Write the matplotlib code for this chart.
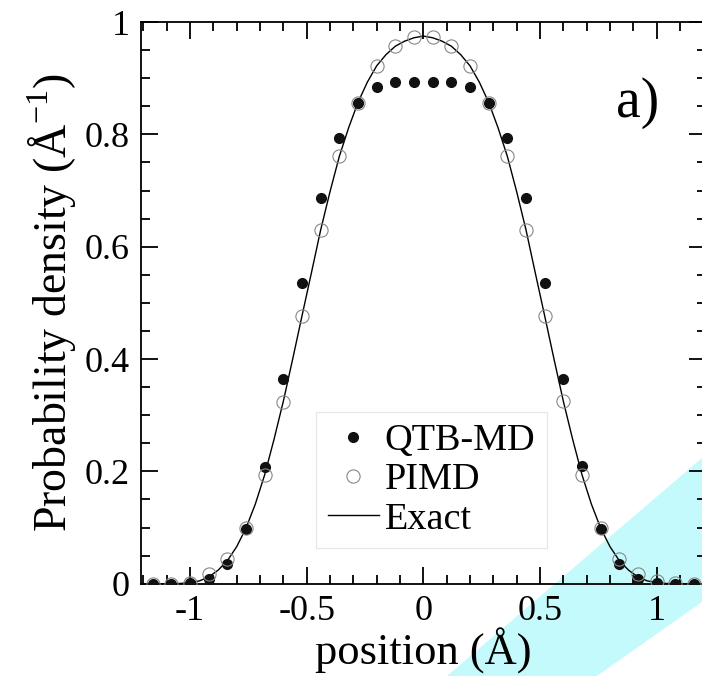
import matplotlib
matplotlib.use("Agg")
import matplotlib.pyplot as plt
from matplotlib.patches import Polygon
from matplotlib.ticker import MultipleLocator, FixedLocator

plt.rcParams["font.family"] = ["Liberation Serif", "DejaVu Serif"]
plt.rcParams["mathtext.fontset"] = "custom"
plt.rcParams["mathtext.rm"] = "Liberation Serif"

# sample positions (Angstrom)
pos = [-1.16, -1.08, -1.00, -0.92, -0.84, -0.76, -0.68, -0.60, -0.52, -0.44,
       -0.36, -0.28, -0.20, -0.12, -0.04, 0.04, 0.12, 0.20, 0.28, 0.36,
       0.44, 0.52, 0.60, 0.68, 0.76, 0.84, 0.92, 1.00, 1.08, 1.16]

qtb_md = [0.000, 0.000, 0.001, 0.009, 0.035, 0.097, 0.208, 0.365, 0.536, 0.686,
          0.794, 0.856, 0.884, 0.893, 0.893, 0.893, 0.893, 0.884, 0.856, 0.794,
          0.686, 0.536, 0.365, 0.209, 0.097, 0.035, 0.009, 0.001, 0.000, 0.000]

pimd = [0.000, 0.000, 0.002, 0.017, 0.044, 0.099, 0.194, 0.323, 0.477, 0.630,
        0.761, 0.856, 0.922, 0.958, 0.974, 0.974, 0.958, 0.922, 0.856, 0.761,
        0.630, 0.477, 0.325, 0.194, 0.100, 0.044, 0.017, 0.004, 0.001, 0.000]

# exact curve
exact_x = [-1.21, -1.16, -1.12, -1.08, -1.04, -1.00, -0.96, -0.92, -0.88, -0.84,
           -0.80, -0.76, -0.72, -0.68, -0.64, -0.60, -0.56, -0.52, -0.48, -0.44,
           -0.40, -0.36, -0.32, -0.28, -0.24, -0.20, -0.16, -0.12, -0.08, -0.04,
           0.00, 0.04, 0.08, 0.12, 0.16, 0.20, 0.24, 0.28, 0.32, 0.36,
           0.40, 0.44, 0.48, 0.52, 0.56, 0.60, 0.64, 0.68, 0.72, 0.76,
           0.80, 0.84, 0.88, 0.92, 0.96, 1.00, 1.04, 1.08, 1.12, 1.16, 1.21]
exact_y = [0.000, 0.000, 0.000, 0.000, 0.0005, 0.002, 0.005, 0.012, 0.024, 0.041,
           0.066, 0.099, 0.142, 0.194, 0.257, 0.325, 0.400, 0.477, 0.553, 0.630,
           0.698, 0.761, 0.812, 0.857, 0.893, 0.922, 0.942, 0.957, 0.966, 0.972,
           0.975, 0.972, 0.966, 0.957, 0.942, 0.922, 0.893, 0.857, 0.812, 0.761,
           0.698, 0.630, 0.553, 0.477, 0.400, 0.325, 0.257, 0.194, 0.142, 0.099,
           0.066, 0.041, 0.024, 0.012, 0.005, 0.002, 0.0005, 0.000, 0.000, 0.000, 0.000]

fig = plt.figure(figsize=(7.02, 6.76), dpi=100)

# cyan band in the lower right corner of the original scan
band = Polygon([(447 / 702, 0.0), (1.0, 1 - 458 / 676), (1.0, 1 - 602 / 676), (597 / 702, 0.0)],
               closed=True, transform=fig.transFigure, facecolor="#c4fafc",
               edgecolor="none", zorder=-5)
fig.patches.append(band)

ax = fig.add_axes([0.2009, 0.1365, 0.8043, 0.8309])
ax.set_zorder(1)
ax.patch.set_visible(False)

ax.plot(exact_x, exact_y, color="black", lw=1.0, label="Exact", zorder=2)
ax.plot(pos, qtb_md, "o", color="#111111", ms=7, mec="#111111", label="QTB-MD", zorder=3)
ax.plot(pos, pimd, "o", mfc="none", mec="#888888", mew=0.8, ms=9.5, label="PIMD", zorder=4)

ax.set_xlim(-1.21, 1.21)
ax.set_ylim(0, 1)

ax.xaxis.set_major_locator(FixedLocator([-1, -0.5, 0, 0.5, 1]))
ax.xaxis.set_minor_locator(MultipleLocator(0.1))
ax.yaxis.set_major_locator(MultipleLocator(0.2))
ax.yaxis.set_minor_locator(MultipleLocator(0.05))
ax.set_xticklabels(["-1", "-0.5", "0", "0.5", "1"])
ax.set_yticks([0, 0.2, 0.4, 0.6, 0.8, 1.0])
ax.set_yticklabels(["0", "0.2", "0.4", "0.6", "0.8", "1"])

ax.tick_params(which="both", direction="in", top=True, right=True, width=1.3, labelsize=26)
ax.tick_params(which="major", length=12, pad=8)
ax.tick_params(which="minor", length=6.5)
for s in ax.spines.values():
    s.set_linewidth(1.3)

ax.set_xlabel("position (Å)", fontsize=32, labelpad=0)
ax.set_ylabel("Probability density (Å$^{\\mathregular{-1}}$)", fontsize=33, labelpad=4)

ax.text(0.92, 0.856, "a)", fontsize=40, ha="center", va="center")

handles, labels = ax.get_legend_handles_labels()
order = [1, 2, 0]
leg = ax.legend([handles[i] for i in order], [labels[i] for i in order],
                loc="upper left", bbox_to_anchor=(0.310, 0.306), borderaxespad=0,
                fontsize=27.5, frameon=True, fancybox=False, edgecolor="#e0e0e0",
                handlelength=1.35, handletextpad=0.15, labelspacing=0.12,
                borderpad=0.3, markerscale=1.0)
leg.get_frame().set_linewidth(0.8)

fig.savefig("out.png", dpi=100)
